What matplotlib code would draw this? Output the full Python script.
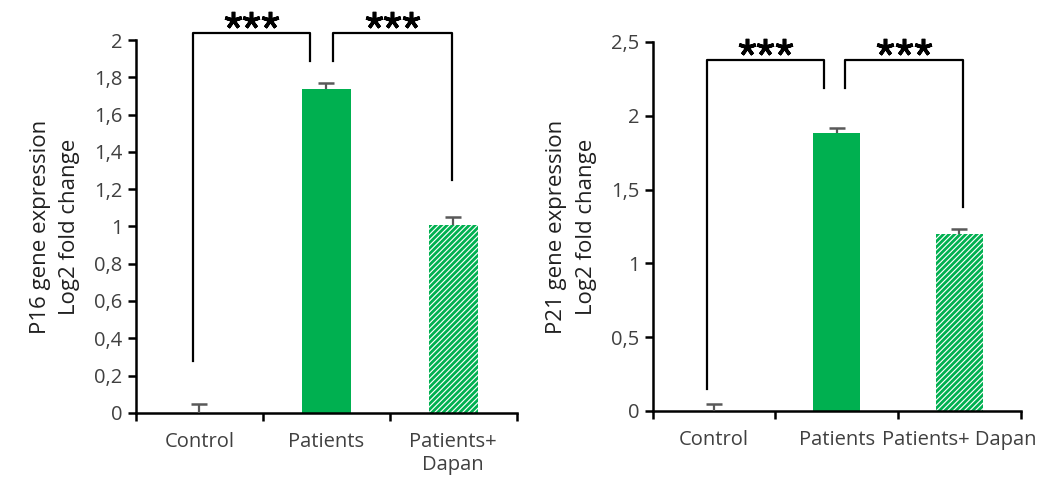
import matplotlib
matplotlib.use("Agg")
from matplotlib import pyplot as plt
from matplotlib import transforms
from matplotlib.ticker import FuncFormatter, FixedLocator

# data
groups_p16 = ["Control", "Patients", "Patients+\nDapan"]
groups_p21 = ["Control", "Patients", "Patients+ Dapan"]
p16_vals = [0.0, 1.735, 1.01]
p16_err = [0.05, 0.035, 0.04]
p21_vals = [0.0, 1.88, 1.20]
p21_err = [0.05, 0.04, 0.035]

green = "#00B050"
plt.rcParams['font.family'] = ['Open Sans', 'DejaVu Sans']
plt.rcParams['hatch.linewidth'] = 2.0


def comma(v, pos):
    s = ("%g" % v).replace(".", ",")
    return s


def draw_panel(ax, labels, vals, errs, ylim, ystep, ylabel, brackets):
    x = [0.5, 1.5, 2.5]
    width = 0.385
    ax.bar(x[:2], vals[:2], width=width, color=green, edgecolor="none", zorder=2)
    ax.bar(x[2], vals[2], width=width, color="white", edgecolor=green,
           hatch="//////", linewidth=0, zorder=2)
    # upper error bars only
    tops = [v + e for v, e in zip(vals, errs)]
    ax.vlines(x, vals, tops, color="#595959", lw=1.6, zorder=3)
    ax.plot(x, tops, linestyle="none", marker="_", markersize=11,
            markeredgewidth=1.8, color="#595959", zorder=3)

    ax.set_xlim(0, 3)
    ax.set_ylim(0, ylim)
    ticks = [i * ystep for i in range(int(round(ylim / ystep)) + 1)]
    ax.set_yticks(ticks)
    ax.yaxis.set_major_formatter(FuncFormatter(comma))
    ax.xaxis.set_major_locator(FixedLocator([0, 1, 2, 3]))
    ax.set_xticklabels([])
    ax.xaxis.set_minor_locator(FixedLocator(x))
    ax.set_xticklabels(labels, minor=True)
    ax.tick_params(axis="x", which="minor", length=0, pad=14, labelsize=14.5,
                   colors="#404040")
    ax.tick_params(axis="x", which="major", length=6, width=1.8, direction="out")
    ax.tick_params(axis="y", length=6, width=1.8, direction="out", labelsize=14.5,
                   labelcolor="#404040")
    for s in ["top", "right"]:
        ax.spines[s].set_visible(False)
    for s in ["left", "bottom"]:
        ax.spines[s].set_linewidth(1.8)
    ax.set_ylabel(ylabel, fontsize=16, color="#202020", labelpad=10,
                  linespacing=1.55)

    # significance brackets with three asterisks
    for (x1, y1, x2, y2, top) in brackets:
        ax.plot([x1, x1, x2, x2], [y1, top, top, y2], color="black", lw=1.6,
                clip_on=False, zorder=4)
        for dx in (-13.5, 0, 13.5):
            tr = transforms.offset_copy(ax.transData, fig=ax.figure, x=dx, y=9,
                                        units="points")
            ax.plot([(x1 + x2) / 2], [top], transform=tr, marker=(5, 2, 0),
                    markersize=12.5, markeredgewidth=2.6, color="black",
                    linestyle="none", clip_on=False, zorder=4)


fig = plt.figure(figsize=(10.61, 4.88), dpi=100)
ax1 = fig.add_axes([0.128, 0.154, 0.359, 0.764])
ax2 = fig.add_axes([0.615, 0.158, 0.347, 0.756])

draw_panel(ax1, groups_p16, p16_vals, p16_err, 2.0, 0.2,
           "P16 gene expression\nLog2 fold change",
           [(0.45, 0.28, 1.37, 1.89, 2.04), (1.55, 1.89, 2.49, 1.25, 2.04)])
draw_panel(ax2, groups_p21, p21_vals, p21_err, 2.5, 0.5,
           "P21 gene expression\nLog2 fold change",
           [(0.44, 0.15, 1.4, 2.19, 2.38), (1.57, 2.19, 2.53, 1.38, 2.38)])

fig.savefig("out.png", dpi=100)
